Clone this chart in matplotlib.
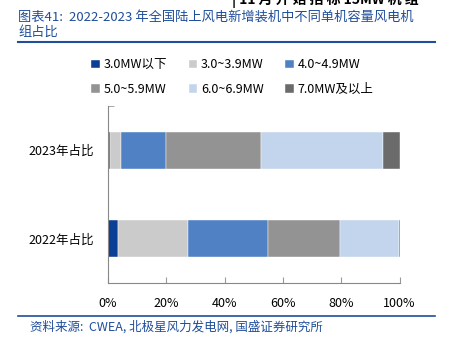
import numpy as np
import matplotlib.pyplot as plt

plt.rcParams['font.family'] = ['Noto Sans CJK SC', 'DejaVu Sans']

categories = ['2022年占比', '2023年占比']
series_names = ['3.0MW以下', '3.0~3.9MW', '4.0~4.9MW', '5.0~5.9MW', '6.0~6.9MW', '7.0MW及以上']
# share (%) of each capacity class, order: 2022, 2023
values = {
    '3.0MW以下': [3.6, 0.8],
    '3.0~3.9MW': [23.7, 3.6],
    '4.0~4.9MW': [27.7, 15.4],
    '5.0~5.9MW': [24.7, 32.7],
    '6.0~6.9MW': [20.0, 41.7],
    '7.0MW及以上': [0.3, 5.8],
}
colors = ['#0B3F95', '#CBCBCB', '#4F81C4', '#939393', '#C3D5EC', '#6B6B6B']
xticks = [0, 20, 40, 60, 80, 100]

W, H = 449, 343
fig = plt.figure(figsize=(W / 100, H / 100), dpi=100)
ax = fig.add_axes([108 / W, 1 - 283 / H, 291.5 / W, 177 / H])

y = np.arange(len(categories))
left = np.zeros(len(categories))
handles = []
for name, c in zip(series_names, colors):
    v = np.array(values[name])
    b = ax.barh(y, v, left=left, height=0.42, color=c, edgecolor='white', linewidth=0.3, label=name)
    handles.append(b)
    left += v

ax.set_xlim(0, 100)
ax.set_ylim(-0.5, 1.5)
ax.set_xticks(xticks)
ax.set_xticklabels([f'{t}%' for t in xticks], fontsize=9)
ax.set_yticks(y)
ax.set_yticklabels(categories, fontsize=9)
ax.tick_params(axis='y', length=0, pad=10)
ax.tick_params(axis='x', direction='in', length=4, color='#999999', pad=10)
ax.set_yticks([1.5], minor=True)
ax.tick_params(axis='y', which='minor', direction='in', length=4, color='#999999')
for s in ['top', 'right']:
    ax.spines[s].set_visible(False)
for s in ['left', 'bottom']:
    ax.spines[s].set_color('#888888')
    ax.spines[s].set_linewidth(0.8)

# legend filled row by row (matplotlib fills by column)
order = [0, 3, 1, 4, 2, 5]
fig.legend(handles=[handles[i] for i in order], labels=[series_names[i] for i in order],
           ncol=3, loc='upper left',
           bbox_to_anchor=(80 / W, 1 - 47 / H), frameon=False, fontsize=9,
           handlelength=0.7, handleheight=0.7, handletextpad=0.3,
           columnspacing=1.7, labelspacing=0.95)

blue = '#1F4E9A'
fig.text(18 / W, 1 - 17 / H, '图表41:  2022-2023 年全国陆上风电新增装机中不同单机容量风电机',
         color=blue, fontsize=9.5, style='italic', va='center')
fig.text(18 / W, 1 - 32 / H, '组占比', color=blue, fontsize=9.5, style='italic', va='center')
fig.text(232 / W, 1 - 0 / H, '| 11 月 开 始 招 标 15MW 机 组', color='black',
         fontsize=10, fontweight='bold', va='center')
fig.add_artist(plt.Line2D([18 / W, 435 / W], [1 - 42 / H, 1 - 42 / H], color=blue, lw=1.5))
fig.add_artist(plt.Line2D([18 / W, 435 / W], [1 - 316 / H, 1 - 316 / H], color=blue, lw=1.2))
fig.text(30 / W, 1 - 327 / H, '资料来源:  CWEA, 北极星风力发电网, 国盛证券研究所',
         color=blue, fontsize=9, style='italic', va='center')

fig.savefig('out.png', dpi=100)
